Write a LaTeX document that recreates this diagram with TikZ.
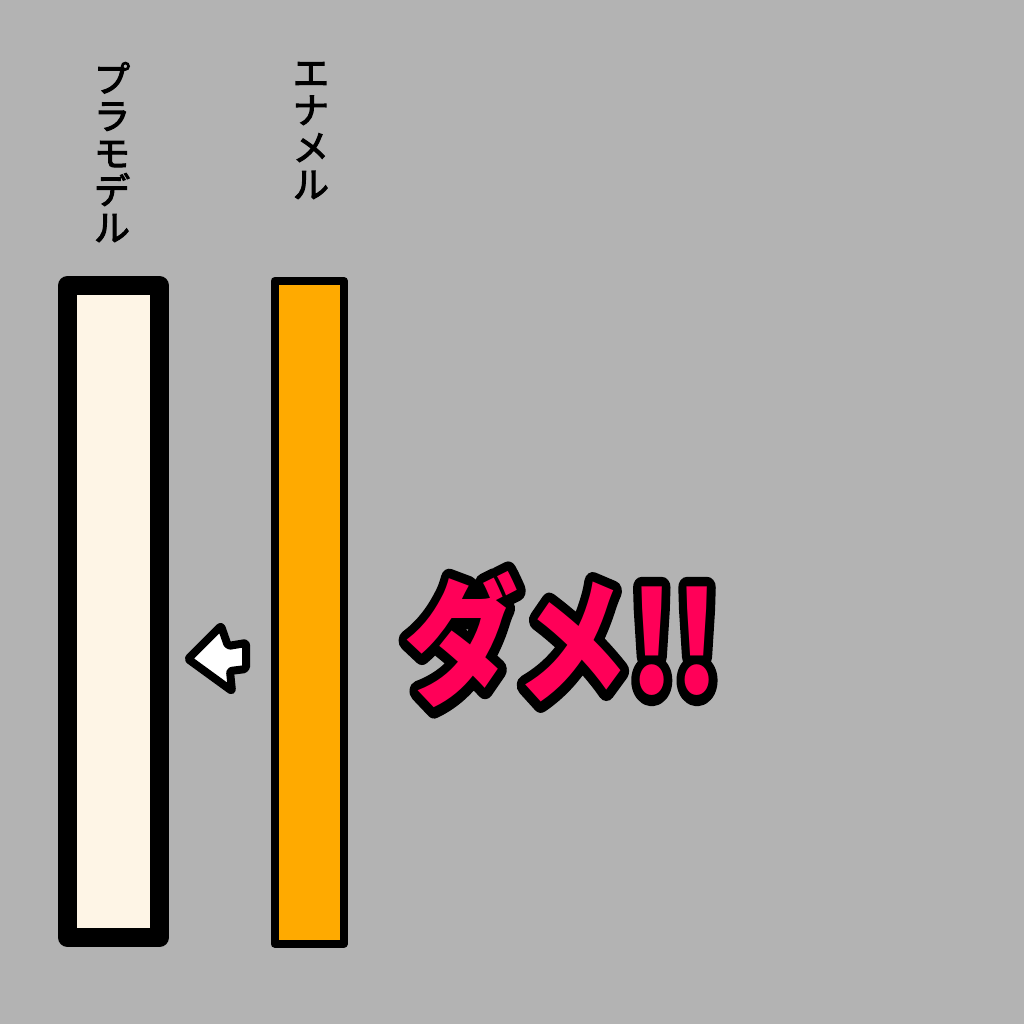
\documentclass[tikz,border=0pt]{standalone}
\usepackage{fontspec}
\newfontfamily\jpfont{Noto Sans CJK JP}
\newfontfamily\jplabelfont[FakeBold=3]{Noto Sans CJK JP}
\usetikzlibrary{positioning}
\definecolor{bggray}{HTML}{B3B3B3}
\definecolor{placream}{HTML}{FEF5E6}
\definecolor{enamelorange}{HTML}{FFAA00}
\definecolor{damepink}{HTML}{FF0058}
% black rim first (stroke only), then the pink letters on top
\newcommand\rimtext[1]{%
	\special{pdf:literal direct 1 Tr 17 w 1 j 1 J}\rlap{\color{black}#1}%
	\special{pdf:literal direct 0 Tr}#1}

\begin{document}
\begin{tikzpicture}[x=1pt,y=-1pt,
		bar/.style={draw=black, rectangle, inner sep=0pt, line join=round},
		plabar/.style={bar, line width=19pt, fill=placream, minimum width=92pt, minimum height=652pt},
		enamelbar/.style={bar, line width=8pt, fill=enamelorange, minimum width=69.5pt, minimum height=662.5pt},
		vlabel/.style={inner sep=0pt, anchor=north, align=center, font=\jplabelfont\fontsize{36}{37.25}\selectfont},
		dame/.style={inner sep=0pt, text=damepink, font=\jpfont\bfseries\fontsize{114}{114}\selectfont},
		pusharrow/.style={draw=black, line width=8pt, line join=round, rounded corners=2pt, fill=white}]
	\fill[bggray] (0,0) rectangle (1024,1024);
	\useasboundingbox (0,0) rectangle (1024,1024);
	% bars
	\node[plabar] (plamodel) at (113.5,611.5) {};
	\node[enamelbar] (enamel) at (309.25,612.25) {};
	% labels
	\node[vlabel] (plamodellabel) at (112,62) {プ\\ラ\\モ\\デ\\ル};
	\node[vlabel] (enamellabel) at (311,62) {エ\\ナ\\メ\\ル};
	% arrow
	\draw[pusharrow] (188,659) -- (221,626) -- (228,646) -- (246,643) -- (246,669)
		-- (230,671) -- (232,691) -- cycle;
	% dame
	\node[dame] (dametext) at (562,640) {\scalebox{1}[1.22]{\rimtext{ダメ!!}}};
\end{tikzpicture}
\end{document}
